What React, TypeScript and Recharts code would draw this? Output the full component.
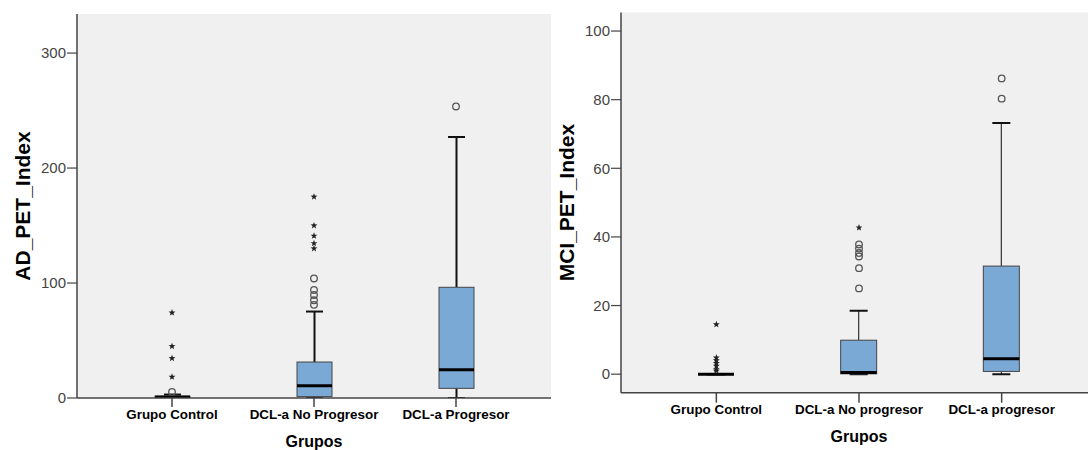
import React from 'react';
import { ComposedChart, Bar, Scatter, XAxis, YAxis, CartesianGrid } from 'recharts';

// ---------- AD_PET_Index (left chart) ----------
const adCategories = ['Grupo Control', 'DCL-a No Progresor', 'DCL-a Progresor'];
const adWhiskerLow = [0, 0, 0];
const adQ1 = [0, 1.2, 8.4];
const adMedian = [0.8, 10.7, 24.6];
const adQ3 = [1.5, 31.3, 96.3];
const adWhiskerHigh = [3, 75.2, 227];
const adCircles = [[5.2], [81, 85, 89.6, 94, 104], [253.6]];
const adStars = [[18.3, 34.5, 45, 74.2], [130, 134.5, 141, 150, 175], []];
const adTicks = [0, 100, 200, 300];
const adDomain = [0, 334];

// ---------- MCI_PET_Index (right chart) ----------
const mciCategories = ['Grupo Control', 'DCL-a No progresor', 'DCL-a progresor'];
const mciWhiskerLow = [0, 0, 0];
const mciQ1 = [0, 0.1, 0.8];
const mciMedian = [0, 0.5, 4.5];
const mciQ3 = [0, 9.9, 31.5];
const mciWhiskerHigh = [0, 18.5, 73.2];
const mciCircles = [[], [25, 30.9, 34.3, 35.3, 36.6, 37.8], [80.3, 86.2]];
const mciStars = [[1.0, 1.4, 2.4, 3.2, 4.0, 4.8, 14.5], [42.7], []];
const mciTicks = [0, 20, 40, 60, 80, 100];
const mciDomain = [-5.4, 105.4];

const FONT = '"Liberation Sans", Arial, Helvetica, sans-serif';

function buildBoxRows(cats, lo, q1, med, q3, hi, domain) {
  return cats.map((name, i) => ({
    name,
    lo: lo[i],
    q1: q1[i],
    med: med[i],
    q3: q3[i],
    hi: hi[i],
    span: [domain[0], domain[1]],
  }));
}

function buildOutlierRows(cats, circles, stars) {
  const rows = [];
  cats.forEach((name, i) => {
    circles[i].forEach((v) => rows.push({ name, v, kind: 'circle' }));
    stars[i].forEach((v) => rows.push({ name, v, kind: 'star' }));
  });
  return rows;
}

function makeBoxShape(domain, opts) {
  return (props) => {
    const { x, y, width, height, payload } = props;
    if (payload == null || height == null) return null;
    const d0 = domain[0];
    const d1 = domain[1];
    const py = (v) => y + ((d1 - v) / (d1 - d0)) * height;
    const cx = x + width / 2;
    const yLo = py(payload.lo);
    const yQ1 = py(payload.q1);
    const yMed = py(payload.med);
    const yQ3 = py(payload.q3);
    const yHi = py(payload.hi);
    const cw = opts.capWidth / 2;
    return (
      <g>
        <line x1={cx} x2={cx} y1={yQ1} y2={yLo} stroke={opts.whiskerColor} strokeWidth={opts.whiskerWidth} />
        <line x1={cx} x2={cx} y1={yQ3} y2={yHi} stroke={opts.whiskerColor} strokeWidth={opts.whiskerWidth} />
        <line x1={cx - cw} x2={cx + cw} y1={yLo} y2={yLo} stroke="#111" strokeWidth={opts.capStroke} />
        <line x1={cx - cw} x2={cx + cw} y1={yHi} y2={yHi} stroke="#111" strokeWidth={opts.capStroke} />
        <rect x={x} y={yQ3} width={width} height={Math.max(0, yQ1 - yQ3)} fill="#7BA9D6" stroke="#444" strokeWidth={1} />
        <line x1={x} x2={x + width} y1={yMed} y2={yMed} stroke="#000" strokeWidth={3} />
      </g>
    );
  };
}

const OutlierShape = (props) => {
  const { cx, cy, payload } = props;
  if (cx == null || cy == null) return null;
  if (payload.kind === 'circle') {
    return <circle cx={cx} cy={cy} r={3.3} fill="none" stroke="#555" strokeWidth={1.3} />;
  }
  const pts = [];
  for (let k = 0; k < 10; k++) {
    const r = k % 2 === 0 ? 3.6 : 1.5;
    const a = -Math.PI / 2 + (k * Math.PI) / 5;
    pts.push(`${cx + r * Math.cos(a)},${cy + r * Math.sin(a)}`);
  }
  return <polygon points={pts.join(' ')} fill="#222" />;
};

function BoxPlotChart({ cats, boxRows, outlierRows, domain, ticks, yTitle, cfg }) {
  return (
    <ComposedChart
      width={cfg.width}
      height={450}
      data={boxRows}
      margin={{ top: cfg.top, right: cfg.right, left: cfg.left, bottom: 0 }}
    >
      <CartesianGrid fill="#F0F0F0" horizontal={false} vertical={false} />
      <XAxis
        dataKey="name"
        type="category"
        allowDuplicatedCategory={false}
        height={cfg.xHeight}
        padding={{ left: 24, right: 24 }}
        tickSize={cfg.xTickSize}
        tickMargin={cfg.xTickMargin}
        axisLine={{ stroke: '#444', strokeWidth: 1.5 }}
        tickLine={{ stroke: '#444', strokeWidth: 1.5 }}
        tick={{ fontSize: 13.4, fontWeight: 'bold', fill: '#000', fontFamily: FONT }}
        interval={0}
        label={{
          value: 'Grupos',
          position: 'insideBottom',
          offset: cfg.xLabelOffset,
          style: { fontSize: 16, fontWeight: 'bold', fill: '#000', fontFamily: FONT },
        }}
      />
      <XAxis
        xAxisId="top"
        dataKey="name"
        type="category"
        allowDuplicatedCategory={false}
        orientation="top"
        height={0}
        tick={false}
        tickLine={false}
        axisLine={{ stroke: '#888', strokeWidth: 1.5 }}
      />
      <YAxis
        type="number"
        domain={domain}
        ticks={ticks}
        allowDataOverflow
        interval={0}
        width={cfg.yWidth}
        tickSize={10}
        tickMargin={1}
        axisLine={{ stroke: '#444', strokeWidth: 1.5 }}
        tickLine={{ stroke: '#444', strokeWidth: 1.2 }}
        tick={{ fontSize: 15, fill: '#444', fontFamily: FONT }}
        label={{
          value: yTitle,
          angle: -90,
          position: 'insideLeft',
          offset: cfg.yLabelOffset,
          style: { textAnchor: 'middle', fontSize: 21, fontWeight: 'bold', fill: '#000', fontFamily: FONT },
        }}
      />
      <YAxis
        yAxisId="right"
        orientation="right"
        type="number"
        domain={domain}
        allowDataOverflow
        width={0}
        tick={false}
        tickLine={false}
        axisLine={{ stroke: '#888', strokeWidth: 1.5 }}
      />
      <Bar
        dataKey="span"
        barSize={cfg.boxWidth}
        isAnimationActive={false}
        shape={makeBoxShape(domain, cfg.box)}
      />
      <Scatter data={outlierRows} dataKey="v" isAnimationActive={false} shape={OutlierShape} />
    </ComposedChart>
  );
}

export default function App() {
  const adBoxes = buildBoxRows(adCategories, adWhiskerLow, adQ1, adMedian, adQ3, adWhiskerHigh, adDomain);
  const adOut = buildOutlierRows(adCategories, adCircles, adStars);
  const mciBoxes = buildBoxRows(mciCategories, mciWhiskerLow, mciQ1, mciMedian, mciQ3, mciWhiskerHigh, mciDomain);
  const mciOut = buildOutlierRows(mciCategories, mciCircles, mciStars);

  return (
    <div
      style={{
        position: 'absolute',
        left: 0,
        top: 0,
        width: 1088,
        height: 450,
        overflow: 'hidden',
        background: '#fff',
        fontFamily: FONT,
      }}
    >
      <div style={{ position: 'absolute', left: 0, top: 0 }}>
        <BoxPlotChart
          cats={adCategories}
          boxRows={adBoxes}
          outlierRows={adOut}
          domain={adDomain}
          ticks={adTicks}
          yTitle="AD_PET_Index"
          cfg={{
            width: 556,
            top: 14,
            right: 5,
            left: 17,
            yWidth: 60,
            xHeight: 52,
            xTickSize: 9,
            xTickMargin: 2.5,
            xLabelOffset: 3,
            yLabelOffset: 6,
            boxWidth: 35,
            box: { capWidth: 17, capStroke: 2, whiskerColor: '#111', whiskerWidth: 2 },
          }}
        />
      </div>
      <div style={{ position: 'absolute', left: 540, top: 0 }}>
        <BoxPlotChart
          cats={mciCategories}
          boxRows={mciBoxes}
          outlierRows={mciOut}
          domain={mciDomain}
          ticks={mciTicks}
          yTitle="MCI_PET_Index"
          cfg={{
            width: 580,
            top: 12.5,
            right: 23,
            left: 26,
            yWidth: 55,
            xHeight: 57.3,
            xTickSize: 10,
            xTickMargin: 2.2,
            xLabelOffset: 8.5,
            yLabelOffset: 1,
            boxWidth: 36,
            box: { capWidth: 18, capStroke: 2, whiskerColor: '#333', whiskerWidth: 1.2 },
          }}
        />
      </div>
    </div>
  );
}
